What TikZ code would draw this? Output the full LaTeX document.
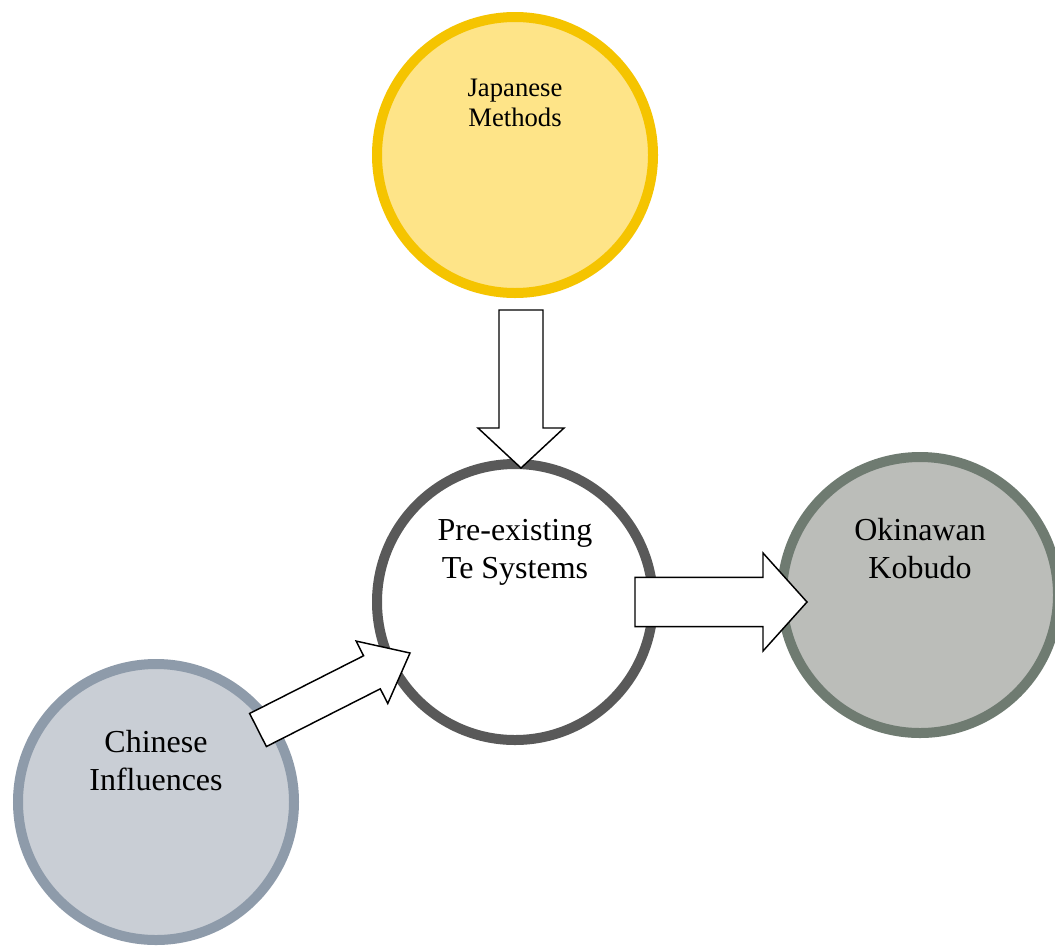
\documentclass[tikz,border=0pt]{standalone}
\usepackage{fontspec}
\setmainfont{Liberation Serif}
\usetikzlibrary{positioning, calc}

\definecolor{japanfill}{RGB}{254,228,136}
\definecolor{japanline}{RGB}{245,196,0}
\definecolor{preline}{RGB}{89,89,89}
\definecolor{chinafill}{RGB}{201,206,213}
\definecolor{chinaline}{RGB}{142,155,170}
\definecolor{okinfill}{RGB}{187,189,185}
\definecolor{okinline}{RGB}{111,123,113}

% block arrow from #1 (tail) to #2 (tip): half shaft, half head, head length
\newcommand{\fatarrow}[5]{%
  \coordinate (fa-head) at ($(#2)!#5!(#1)$);
  \draw[blockarrow] ($(#1)!#3!90:(#2)$) -- ($(fa-head)!#3!90:(#2)$)
    -- ($(fa-head)!#4!90:(#2)$) -- (#2) -- ($(fa-head)!#4!-90:(#2)$)
    -- ($(fa-head)!#3!-90:(#2)$) -- ($(#1)!#3!-90:(#2)$) -- cycle;
}

\begin{document}
\begin{tikzpicture}[
      x=0.75pt, y=-0.75pt,
      circ/.style={draw, circle, minimum size=207pt, line width=7.5pt},
      txt/.style={align=center, font=\fontsize{24}{28.5}\selectfont},
      blockarrow/.style={draw=black, fill=white, line width=1.1pt, line join=miter}
    ]
    \useasboundingbox[fill=white] (0,0) rectangle (1055,946);

    % Nodes
    \node[circ, draw=japanline, fill=japanfill] (japan) at (515,155) {};
    \node[circ, draw=preline, fill=white] (pre) at (515,602) {};
    \node[circ, draw=chinaline, fill=chinafill] (china) at (156,802) {};
    \node[circ, draw=okinline, fill=okinfill] (okin) at (920,595) {};

    % Texts
    \node[txt, font=\fontsize{20}{22.5}\selectfont] (japantext) at ([yshift=39pt]japan.center) {Japanese\\Methods};
    \node[txt] (pretext) at ([yshift=37pt]pre.center) {Pre-existing\\Te Systems};
    \node[txt] (chinatext) at ([yshift=31pt]china.center) {Chinese\\Influences};
    \node[txt] (okintext) at ([yshift=35pt]okin.center) {Okinawan\\Kobudo};

    % Arrows
    \coordinate (downtail) at ($(japan.center)+(6,155)$);
    \coordinate (downtip) at ($(pre.center)+(6,-134)$);
    \coordinate (righttail) at ($(pre.center)+(120,0)$);
    \coordinate (righttip) at ($(okin.center)+(-113,7)$);
    \coordinate (diagtail) at ($(china.center)+(102,-72)$);
    \coordinate (diagtip) at ($(pre.center)+(-105,51)$);
    \fatarrow{downtail}{downtip}{16.5pt}{32.25pt}{30pt}
    \fatarrow{righttail}{righttip}{18.4pt}{36.75pt}{33pt}
    \fatarrow{diagtail}{diagtip}{13.9pt}{26.25pt}{32pt}
\end{tikzpicture}
\end{document}
